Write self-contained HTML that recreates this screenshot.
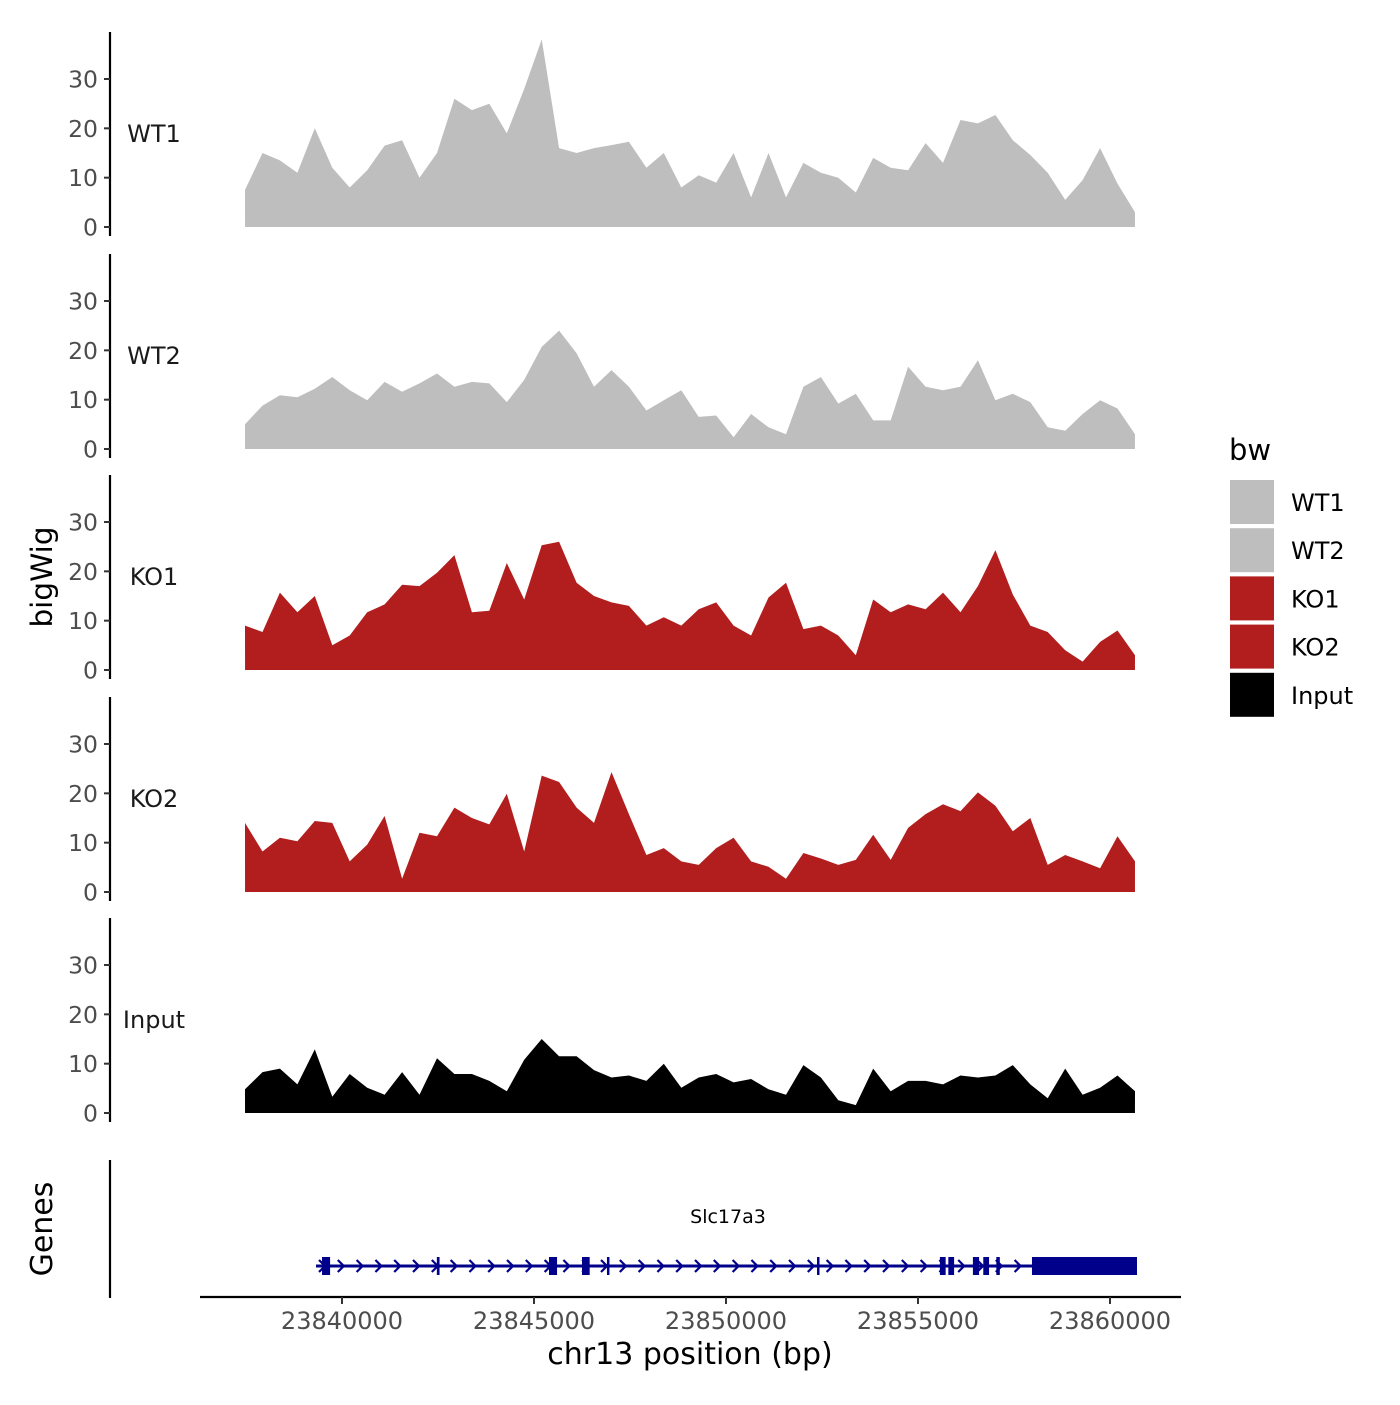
<!DOCTYPE html>
<html><head><meta charset="utf-8"><style>
body{margin:0;background:#fff}
svg text{font-family:"DejaVu Sans","Liberation Sans",sans-serif}
</style></head><body>
<svg id="chart" width="1400" height="1400" viewBox="0 0 1400 1400" xmlns="http://www.w3.org/2000/svg"></svg>
<script>
const trackNames = ["WT1","WT2","KO1","KO2","Input"];
const trackColors = ["#bebebe","#bebebe","#b21e1e","#b21e1e","#000000"];
const regionStart = 23837475;
const regionEnd = 23860650;
const wt1 = [7.5,15,13.5,11,20,12,8,11.5,16.5,17.6,10,15,26,23.7,25,19,28,38,16,15,16,16.6,17.3,12,15,8,10.5,9,15,6,15,6,13,11,10,7,14,12,11.5,17,13,21.7,21,22.7,17.6,14.6,11,5.5,9.5,16,8.8,3];
const wt2 = [5,8.8,10.9,10.5,12.2,14.6,11.9,9.9,13.6,11.6,13.3,15.3,12.6,13.6,13.3,9.5,14,20.7,24,19.4,12.6,16,12.6,7.8,9.9,11.9,6.5,6.8,2.4,7.1,4.4,3,12.6,14.6,9.2,11.2,5.8,5.8,16.7,12.6,11.9,12.6,18,9.9,11.2,9.5,4.4,3.7,7.1,9.9,8.2,3];
const ko1 = [9,7.7,15.7,11.7,15,5,7,11.7,13.3,17.3,17,19.7,23.3,11.7,12,21.7,14.3,25.3,26,17.7,15,13.7,13,9,10.7,9,12.3,13.7,9,7,14.7,17.7,8.3,9,7,3,14.3,11.7,13.3,12.3,15.7,11.7,17,24.3,15.3,9,7.7,4,1.7,5.7,8,3];
const ko2 = [14,8.2,11,10.3,14.4,14,6.2,9.6,15.4,2.7,12,11.3,17.1,15,13.7,19.9,8.2,23.6,22.3,17.1,14,24.3,15.8,7.5,8.9,6.2,5.5,8.9,11,6.2,5.1,2.7,7.9,6.8,5.5,6.5,11.6,6.5,13,15.8,17.8,16.4,20.2,17.5,12.3,15,5.5,7.5,6.2,4.8,11.3,6.2];
const input = [4.8,8.3,9,5.8,12.9,3.3,7.9,5.1,3.7,8.3,3.7,11.1,7.9,7.9,6.5,4.4,10.8,15,11.5,11.5,8.7,7.2,7.6,6.5,10,5.1,7.2,7.9,6.2,6.9,4.8,3.7,9.7,7.2,2.6,1.6,9,4.4,6.5,6.5,5.8,7.6,7.2,7.6,9.7,5.8,3,9,3.7,5.1,7.6,4.4];
const trackValues = [wt1,wt2,ko1,ko2,input];
const yTicks = [0,10,20,30];
const xTicks = [23840000,23845000,23850000,23855000,23860000];
const geneName = "Slc17a3";
const geneStart = 23839323;
const geneEnd = 23860703;
const exonStarts = [23839480,23842470,23845390,23846250,23846900,23852370,23855570,23855790,23856430,23856700,23857040,23857968];
const exonEnds   = [23839690,23842540,23845600,23846450,23846960,23852420,23855720,23855940,23856590,23856850,23857130,23860703];

const svg = document.getElementById('chart');
const NS = "http://www.w3.org/2000/svg";
function mk(tag, attrs, parent){const e=document.createElementNS(NS,tag);for(const k in attrs)e.setAttribute(k,attrs[k]);(parent||svg).appendChild(e);return e;}
function xScale(bp){return 342 + (bp-23840000)*192/5000;}
const panelBase = [227,449,670,892,1113];
const unit = 4.933;
function yScale(v,p){return panelBase[p]-v*unit;}

trackValues.forEach((vals,p)=>{
  const g = mk('g',{});
  
  
  const ax = mk('line',{x1:110,x2:110,y1:panelBase[p]-195,y2:panelBase[p]+9,stroke:'#000','stroke-width':2.2},g);
  
  
  yTicks.forEach(t=>{
    const y=yScale(t,p);
    const tk=mk('line',{x1:104,x2:110,y1:y,y2:y,stroke:'#333','stroke-width':2},g);
    
    
    const tl=mk('text',{x:98,y:y+8.5,'text-anchor':'end','font-size':23.5,fill:'#4d4d4d'},g);
    tl.textContent=t;
    
    
  });
  const lab=mk('text',{x:154,y:panelBase[p]-85,'text-anchor':'middle','font-size':24,fill:'#1a1a1a'},g);
  lab.textContent=trackNames[p];
  
  
  const n=vals.length, step=(regionEnd-regionStart)/(n-1);
  let d='M'+xScale(regionStart)+','+panelBase[p];
  vals.forEach((v,i)=>{d+=' L'+xScale(regionStart+i*step).toFixed(1)+','+yScale(v,p).toFixed(1);});
  d+=' L'+xScale(regionEnd)+','+panelBase[p]+' Z';
  const area=mk('path',{d:d,fill:trackColors[p]},g);
  
  
});

const yt=mk('text',{x:0,y:0,transform:'translate(52,577) rotate(-90)','text-anchor':'middle','font-size':29.5,fill:'#000'});
yt.textContent='bigWig';



const ga=mk('line',{x1:110,x2:110,y1:1160,y2:1298,stroke:'#000','stroke-width':2.2});


const gt=mk('text',{x:0,y:0,transform:'translate(52,1229) rotate(-90)','text-anchor':'middle','font-size':30,fill:'#000'});
gt.textContent='Genes';


const gn=mk('text',{x:728,y:1223,'text-anchor':'middle','font-size':19,fill:'#000'});
gn.textContent=geneName;


const gl=mk('line',{x1:xScale(geneStart),x2:xScale(geneEnd),y1:1266,y2:1266,stroke:'#00008b','stroke-width':3});


for(let x=xScale(geneStart)+6;x<xScale(geneEnd)-5;x+=18.8){
  const ch=mk('path',{d:`M${x-3},1260 L${x+3},1266 L${x-3},1272`,fill:'none',stroke:'#00008b','stroke-width':2.2});
  
  
}
exonStarts.forEach((s,i)=>{
  const x1=xScale(s),x2=xScale(exonEnds[i]);
  const r=mk('rect',{x:x1,y:1257,width:Math.max(2.5,x2-x1),height:18,fill:'#00008b'});
  
  
});

const xa=mk('line',{x1:200,x2:1181,y1:1297,y2:1297,stroke:'#000','stroke-width':2.2});


xTicks.forEach(t=>{
  const x=xScale(t);
  const tk=mk('line',{x1:x,x2:x,y1:1297,y2:1304,stroke:'#333','stroke-width':2});
  
  
  const tl=mk('text',{x:x,y:1329,'text-anchor':'middle','font-size':24,fill:'#4d4d4d'});
  tl.textContent=t;
  
  
});
const xt=mk('text',{x:690,y:1364,'text-anchor':'middle','font-size':30,fill:'#000'});
xt.textContent='chr13 position (bp)';



const lg=mk('g',{});


const lt=mk('text',{x:1229,y:460,'font-size':29,fill:'#000'},lg);
lt.textContent='bw';


trackNames.forEach((n,i)=>{
  const y=480+i*48.2;
  const r=mk('rect',{x:1230,y:y,width:44,height:44,fill:trackColors[i]},lg);
  
  
  const t=mk('text',{x:1291,y:y+31,'font-size':24,fill:'#000'},lg);
  t.textContent=n;
  
  
});
</script>
</body></html>
